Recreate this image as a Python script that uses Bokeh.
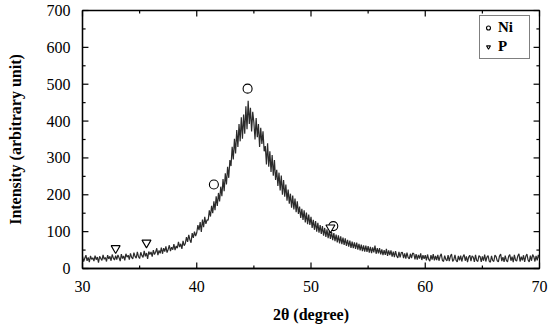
import numpy as np
from bokeh.plotting import figure
from bokeh.models import Range1d, Legend, LegendItem, FixedTicker
from bokeh.embed import file_html
from bokeh.resources import INLINE

# XRD pattern: 2theta from 30 to 70 in steps of 0.1 degree
two_theta_start = 30.0
two_theta_step = 0.1
intensity = [
    33, 19, 28, 36, 21, 30, 17, 34, 25, 29,
    20, 35, 24, 31, 16, 33, 27, 22, 37, 25,
    30, 19, 36, 26, 33, 21, 38, 28, 23, 35,
    24, 37, 29, 20, 39, 27, 34, 22, 40, 31,
    36, 24, 41, 30, 26, 43, 33, 28, 45, 32,
    27, 44, 35, 30, 48, 33, 42, 26, 46, 38,
    45, 32, 50, 38, 44, 55, 36, 49, 41, 57,
    40, 55, 46, 60, 43, 52, 63, 47, 58, 51,
    66, 50, 61, 55, 72, 58, 67, 53, 75, 62,
    68, 85, 72, 91, 78, 70, 96, 83, 100, 88,
    97, 118, 104, 126, 99, 133, 112, 140, 121, 132,
    131, 158, 141, 170, 150, 182, 158, 196, 170, 205,
    182, 222, 196, 243, 210, 258, 228, 276, 246, 294,
    278, 330, 296, 352, 312, 376, 330, 392, 345, 410,
    352, 418, 366, 440, 378, 455, 392, 436, 372, 425,
    396, 350, 408, 356, 392, 330, 382, 338, 372, 318,
    332, 282, 340, 276, 318, 262, 308, 252, 294, 240,
    268, 224, 260, 212, 252, 200, 240, 195, 228, 184,
    214, 176, 203, 165, 198, 160, 190, 153, 182, 148,
    168, 137, 162, 132, 158, 125, 152, 120, 146, 118,
    140, 110, 132, 105, 129, 100, 124, 97, 118, 94,
    115, 89, 110, 86, 106, 82, 102, 80, 99, 77,
    96, 74, 92, 71, 90, 68, 87, 66, 84, 64,
    82, 61, 78, 59, 76, 56, 73, 55, 71, 53,
    70, 51, 67, 49, 65, 47, 63, 46, 62, 45,
    61, 43, 59, 42, 57, 44, 62, 40, 55, 41,
    55, 38, 52, 36, 50, 37, 53, 34, 49, 36,
    49, 32, 46, 31, 47, 34, 29, 45, 30, 43,
    44, 28, 41, 27, 43, 30, 26, 40, 28, 42,
    40, 25, 39, 24, 37, 27, 41, 23, 36, 26,
    36, 22, 38, 25, 20, 36, 24, 39, 22, 34,
    23, 37, 21, 33, 40, 22, 19, 35, 25, 21,
    36, 20, 33, 39, 19, 24, 37, 22, 18, 34,
    22, 35, 19, 32, 38, 21, 33, 17, 31, 36,
    20, 34, 31, 18, 37, 22, 19, 35, 32, 18,
    33, 21, 38, 19, 31, 35, 20, 17, 34, 22,
    19, 36, 32, 21, 18, 34, 39, 20, 31, 18,
    35, 22, 18, 33, 38, 21, 32, 17, 37, 23,
    20, 34, 40, 19, 32, 22, 36, 18, 33, 39,
    23, 18, 35, 21, 38, 32, 19, 34, 22, 37,
    28,
]
two_theta = [round(two_theta_start + i * two_theta_step, 1) for i in range(len(intensity))]

# Peak markers
ni_x = [41.5, 44.45, 51.95]
ni_y = [228, 488, 115]
p_x = [32.9, 35.6, 51.7]
p_y = [55, 70, 111]

x_ticks = [30, 40, 50, 60, 70]
x_minor = [35, 45, 55, 65]
y_ticks = [0, 100, 200, 300, 400, 500, 600, 700]
y_minor = [50, 150, 250, 350, 450, 550, 650]

FONT = "Liberation Serif"
XMIN, XMAX, YMIN, YMAX = 30, 70, 0, 700

p = figure(width=550, height=329, output_backend="svg", toolbar_location=None,
           x_range=Range1d(XMIN, XMAX), y_range=Range1d(YMIN, YMAX),
           min_border_left=82, min_border_right=11, min_border_top=10, min_border_bottom=61)
p.grid.visible = False
p.outline_line_color = "black"
p.outline_line_width = 1.3
p.outline_line_alpha = 1

p.line(two_theta, intensity, line_color="#2b2b2b", line_width=1.2)
ni = p.scatter(ni_x, ni_y, marker="circle", size=9, fill_color="white", line_color="black", line_width=1.1)
pp = p.scatter(p_x, p_y, marker="inverted_triangle", size=9, fill_color="white", line_color="black", line_width=1.1)

# inward tick marks on all four sides (lengths in data units ~ 6px / 3px)
ymaj, ymin_len = 16, 8
xmaj, xmin_len = 0.52, 0.27
tick_kw = dict(line_color="black", line_width=1.2, level="overlay")
p.segment(x0=x_ticks, y0=[YMIN] * len(x_ticks), x1=x_ticks, y1=[YMIN + ymaj] * len(x_ticks), **tick_kw)
p.segment(x0=x_ticks, y0=[YMAX] * len(x_ticks), x1=x_ticks, y1=[YMAX - ymaj] * len(x_ticks), **tick_kw)
p.segment(x0=x_minor, y0=[YMIN] * len(x_minor), x1=x_minor, y1=[YMIN + ymin_len] * len(x_minor), **tick_kw)
p.segment(x0=x_minor, y0=[YMAX] * len(x_minor), x1=x_minor, y1=[YMAX - ymin_len] * len(x_minor), **tick_kw)
p.segment(x0=[XMIN] * len(y_ticks), y0=y_ticks, x1=[XMIN + xmaj] * len(y_ticks), y1=y_ticks, **tick_kw)
p.segment(x0=[XMAX] * len(y_ticks), y0=y_ticks, x1=[XMAX - xmaj] * len(y_ticks), y1=y_ticks, **tick_kw)
p.segment(x0=[XMIN] * len(y_minor), y0=y_minor, x1=[XMIN + xmin_len] * len(y_minor), y1=y_minor, **tick_kw)
p.segment(x0=[XMAX] * len(y_minor), y0=y_minor, x1=[XMAX - xmin_len] * len(y_minor), y1=y_minor, **tick_kw)

p.xaxis.ticker = FixedTicker(ticks=x_ticks)
p.yaxis.ticker = FixedTicker(ticks=y_ticks)
for ax in (p.xaxis[0], p.yaxis[0]):
    ax.axis_line_color = "black"
    ax.axis_line_width = 1.3
    ax.major_tick_line_color = None
    ax.minor_tick_line_color = None
    ax.major_tick_in = 0
    ax.major_tick_out = 0
    ax.minor_tick_in = 0
    ax.minor_tick_out = 0
    ax.major_label_text_font = FONT
    ax.major_label_text_font_size = "16px"
    ax.major_label_text_color = "black"
    ax.axis_label_text_font = FONT
    ax.axis_label_text_font_size = "16px"
    ax.axis_label_text_font_style = "bold"
    ax.axis_label_text_color = "black"
p.xaxis.axis_label = "2θ (degree)"
p.yaxis.axis_label = "Intensity (arbitrary unit)"
p.xaxis.major_label_standoff = 12
p.xaxis.axis_label_standoff = 11
p.yaxis.major_label_standoff = 12
p.yaxis.axis_label_standoff = 20

legend = Legend(items=[LegendItem(label="Ni", renderers=[ni]), LegendItem(label="P", renderers=[pp])],
                location=(397, 209))
legend.label_text_font = FONT
legend.label_text_font_size = "15px"
legend.label_text_font_style = "bold"
legend.label_text_color = "black"
legend.border_line_color = "black"
legend.border_line_width = 1
legend.glyph_width = 10
legend.glyph_height = 15
legend.label_height = 15
legend.label_width = 28
legend.spacing = 2
legend.padding = 3
legend.label_standoff = 5
legend.margin = 0
legend.background_fill_alpha = 1
p.add_layout(legend, "center")

open("out.html", "w").write(file_html(p, INLINE))
